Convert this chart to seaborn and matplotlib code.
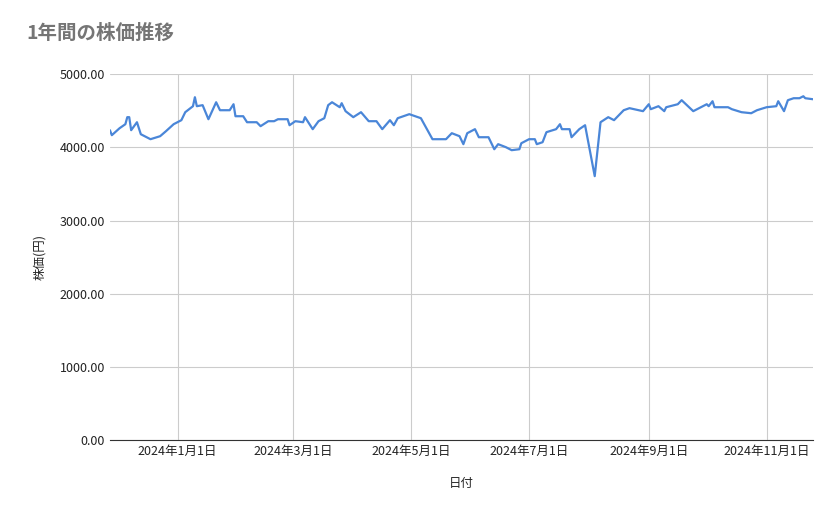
import pandas as pd
import matplotlib
matplotlib.use("Agg")
import matplotlib.pyplot as plt
import matplotlib.dates as mdates
from matplotlib.ticker import FuncFormatter
import seaborn as sns

dates = ["2023-11-27", "2023-11-28", "2023-12-02", "2023-12-05", "2023-12-06", "2023-12-07",
         "2023-12-08", "2023-12-11", "2023-12-13", "2023-12-18", "2023-12-23", "2023-12-26",
         "2023-12-30", "2024-01-03", "2024-01-05", "2024-01-09", "2024-01-10", "2024-01-11",
         "2024-01-14", "2024-01-17", "2024-01-21", "2024-01-23", "2024-01-28", "2024-01-30",
         "2024-01-31", "2024-02-04", "2024-02-06", "2024-02-11", "2024-02-13", "2024-02-17",
         "2024-02-20", "2024-02-22", "2024-02-27", "2024-02-28", "2024-03-02", "2024-03-06",
         "2024-03-07", "2024-03-11", "2024-03-14", "2024-03-17", "2024-03-19", "2024-03-21",
         "2024-03-25", "2024-03-26", "2024-03-28", "2024-04-01", "2024-04-05", "2024-04-09",
         "2024-04-13", "2024-04-16", "2024-04-20", "2024-04-22", "2024-04-24", "2024-04-30",
         "2024-05-06", "2024-05-08", "2024-05-12", "2024-05-14", "2024-05-19", "2024-05-22",
         "2024-05-26", "2024-05-28", "2024-05-30", "2024-06-03", "2024-06-05", "2024-06-08",
         "2024-06-10", "2024-06-11", "2024-06-13", "2024-06-15", "2024-06-19", "2024-06-22",
         "2024-06-26", "2024-06-27", "2024-07-01", "2024-07-04", "2024-07-05", "2024-07-08",
         "2024-07-10", "2024-07-15", "2024-07-17", "2024-07-18", "2024-07-22", "2024-07-23",
         "2024-07-27", "2024-07-30", "2024-08-04", "2024-08-07", "2024-08-11", "2024-08-14",
         "2024-08-19", "2024-08-22", "2024-08-29", "2024-09-01", "2024-09-02", "2024-09-06",
         "2024-09-09", "2024-09-10", "2024-09-16", "2024-09-18", "2024-09-24", "2024-10-01",
         "2024-10-02", "2024-10-04", "2024-10-05", "2024-10-12", "2024-10-14", "2024-10-19",
         "2024-10-24", "2024-10-27", "2024-11-01", "2024-11-06", "2024-11-07", "2024-11-10",
         "2024-11-12", "2024-11-15", "2024-11-18", "2024-11-20", "2024-11-21", "2024-11-25"]
prices = [4235, 4167, 4262, 4317, 4413, 4413,
          4235, 4344, 4180, 4112, 4153, 4221,
          4317, 4372, 4481, 4563, 4686, 4563,
          4577, 4385, 4617, 4508, 4508, 4590,
          4426, 4426, 4344, 4344, 4290, 4358,
          4358, 4385, 4385, 4303, 4358, 4344,
          4413, 4249, 4358, 4399, 4577, 4617,
          4549, 4604, 4495, 4413, 4481, 4358,
          4358, 4249, 4372, 4303, 4399, 4454,
          4399, 4303, 4112, 4112, 4112, 4194,
          4153, 4044, 4194, 4249, 4139, 4139,
          4139, 4085, 3975, 4044, 4003, 3962,
          3975, 4057, 4112, 4112, 4044, 4071,
          4208, 4249, 4317, 4249, 4249, 4139,
          4249, 4303, 3607, 4344, 4413, 4372,
          4508, 4536, 4495, 4590, 4522, 4563,
          4495, 4549, 4590, 4645, 4495, 4590,
          4563, 4631, 4549, 4549, 4522, 4481,
          4467, 4508, 4549, 4563, 4631, 4495,
          4645, 4672, 4672, 4699, 4672, 4658]
tick_dates = ["2024-01-01", "2024-03-01", "2024-05-01", "2024-07-01", "2024-09-01", "2024-11-01"]

df = pd.DataFrame({"date": pd.to_datetime(dates), "price": prices})

sns.set_style("whitegrid")
plt.rcParams['font.family'] = ['Noto Sans CJK JP', 'DejaVu Sans']

fig, ax = plt.subplots(figsize=(8.39, 5.19), dpi=100)
fig.subplots_adjust(left=0.131, right=0.969, top=0.857, bottom=0.152)

sns.lineplot(data=df, x="date", y="price", ax=ax, color="#4a86d8", linewidth=1.6)

ax.set_xlim(pd.Timestamp("2023-11-27"), pd.Timestamp("2024-11-25"))
ax.set_ylim(0, 5000)
ax.set_yticks(range(0, 5001, 1000))
ax.yaxis.set_major_formatter(FuncFormatter(lambda v, p: f"{v:.2f}"))
ticks = pd.to_datetime(tick_dates)
ax.set_xticks(ticks)
ax.set_xticklabels([f"{t.year}年{t.month}月{t.day}日" for t in ticks])
ax.tick_params(labelsize=9, colors="#222222", length=0)

ax.grid(color="#cccccc", linewidth=0.8)
for s in ["top", "right", "left"]:
    ax.spines[s].set_visible(False)
ax.spines["bottom"].set_color("#333333")

ax.set_xlabel("日付", fontsize=9, labelpad=14)
ax.set_ylabel("株価(円)", fontsize=9, labelpad=10)
fig.text(0.032, 0.925, "1年間の株価推移", fontsize=14, color="#757575", fontweight="bold")

fig.savefig("out.png", dpi=100)
